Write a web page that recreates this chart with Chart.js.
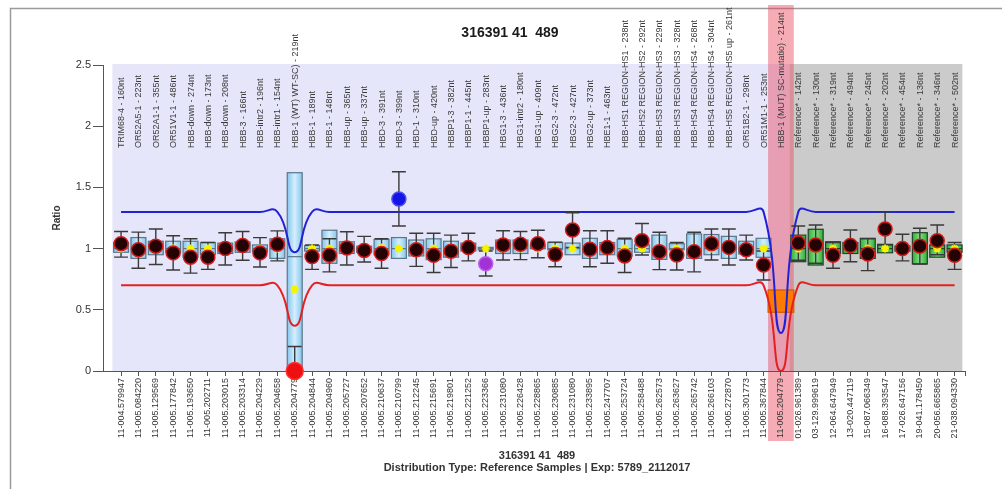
<!DOCTYPE html>
<html>
<head>
<meta charset="utf-8">
<script src="https://cdn.jsdelivr.net/npm/chart.js@4.4.1/dist/chart.umd.min.js"></script>
<style>
  html, body { margin: 0; padding: 0; background: #fff; }
  canvas { display: block; }
</style>
</head>
<body>
<canvas id="ratioChart" width="1002" height="489"></canvas>
<script>
// Probe names (top labels) and chromosome positions (bottom labels)
const probeNames = [
  'TRIM68-4 - 160nt', 'OR52A5-1 - 223nt', 'OR52A1-1 - 355nt', 'OR51V1-1 - 486nt',
  'HBB-down - 274nt', 'HBB-down - 173nt', 'HBB-down - 208nt', 'HBB-3 - 166nt',
  'HBB-intr2 - 196nt', 'HBB-intr1 - 154nt', 'HBB-1 (WT) WT-SC) - 219nt', 'HBB-1 - 189nt',
  'HBB-1 - 148nt', 'HBB-up - 365nt', 'HBB-up - 337nt', 'HBD-3 - 391nt',
  'HBD-3 - 399nt', 'HBD-1 - 310nt', 'HBD-up - 420nt', 'HBBP1-3 - 382nt',
  'HBBP1-1 - 445nt', 'HBBP1-up - 283nt', 'HBG1-3 - 436nt', 'HBG1-intr2 - 180nt',
  'HBG1-up - 409nt', 'HBG2-3 - 472nt', 'HBG2-3 - 427nt', 'HBG2-up - 373nt',
  'HBE1-1 - 463nt', 'HBB-HS1 REGION-HS1 - 238nt', 'HBB-HS2 REGION-HS2 - 292nt', 'HBB-HS3 REGION-HS3 - 229nt',
  'HBB-HS3 REGION-HS3 - 328nt', 'HBB-HS4 REGION-HS4 - 268nt', 'HBB-HS4 REGION-HS4 - 304nt', 'HBB-HS5 REGION-HS5 up - 261nt',
  'OR51B2-1 - 298nt', 'OR51M1-1 - 253nt', 'HBB-1 (MUT) SC-mutatio) - 214nt', 'Reference* - 142nt',
  'Reference* - 130nt', 'Reference* - 319nt', 'Reference* - 494nt', 'Reference* - 245nt',
  'Reference* - 202nt', 'Reference* - 454nt', 'Reference* - 136nt', 'Reference* - 346nt',
  'Reference* - 502nt'
];
const positions = [
  '11-004.579947', '11-005.084220', '11-005.129569', '11-005.177842',
  '11-005.193650', '11-005.202711', '11-005.203015', '11-005.203314',
  '11-005.204229', '11-005.204658', '11-005.204779', '11-005.204844',
  '11-005.204960', '11-005.205727', '11-005.207652', '11-005.210637',
  '11-005.210799', '11-005.212245', '11-005.215691', '11-005.219801',
  '11-005.221252', '11-005.223366', '11-005.231080', '11-005.226428',
  '11-005.228865', '11-005.230885', '11-005.231080', '11-005.233895',
  '11-005.247707', '11-005.253724', '11-005.258488', '11-005.262573',
  '11-005.263627', '11-005.265742', '11-005.266103', '11-005.272870',
  '11-005.301773', '11-005.367844', '11-005.204779', '01-026.961389',
  '03-129.999619', '12-064.647949', '13-020.447119', '15-087.066349',
  '16-088.393547', '17-026.647156', '19-041.178450', '20-056.665865',
  '21-038.094330'
];

// Sample ratio and its confidence range per probe
const sampleRatio = [
  1.04, 0.99, 1.02, 0.965, 0.93, 0.93, 1.0, 1.025, 0.965, 1.035,
  0.0, 0.935, 0.945, 1.005, 0.985, 0.96, 1.405, 0.99, 0.945, 0.978,
  1.008, 0.877, 1.03, 1.035, 1.04, 0.952, 1.152, 0.995, 1.008, 0.94,
  1.065, 0.975, 0.948, 0.975, 1.04, 1.01, 0.99, 0.866, null, 1.045,
  1.03, 0.945, 1.025, 0.956, 1.16, 1.0, 1.02, 1.065, 0.945
];
const errLow = [
  0.93, 0.84, 0.87, 0.825, 0.80, 0.83, 0.866, 0.905, 0.85, 0.90,
  0.0, 0.83, 0.81, 0.866, 0.89, 0.84, 1.185, 0.855, 0.805, 0.845,
  0.90, 0.776, 0.907, 0.91, 0.925, 0.852, 1.01, 0.852, 0.88, 0.805,
  0.948, 0.828, 0.825, 0.81, 0.907, 0.866, 0.907, 0.743, null, 0.905,
  0.88, 0.84, 0.893, 0.82, 1.03, 0.90, 0.874, 0.95, 0.83
];
const errHigh = [
  1.14, 1.135, 1.16, 1.105, 1.08, 1.05, 1.13, 1.14, 1.09, 1.145,
  0.2, 1.03, 1.08, 1.138, 1.10, 1.08, 1.628, 1.125, 1.125, 1.11,
  1.125, 0.98, 1.146, 1.14, 1.15, 1.053, 1.293, 1.146, 1.146, 1.084,
  1.205, 1.133, 1.05, 1.133, 1.16, 1.16, 1.11, 0.98, null, 1.185,
  1.193, 1.05, 1.152, 1.08, 1.30, 1.117, 1.166, 1.193, 1.05
];
// Call for the sample ratio of each probe
const sampleCall = [
  'normal', 'normal', 'normal', 'normal', 'normal', 'normal', 'normal', 'normal', 'normal', 'normal',
  'loss', 'normal', 'normal', 'normal', 'normal', 'normal', 'gain', 'normal', 'normal', 'normal',
  'normal', 'deviant', 'normal', 'normal', 'normal', 'normal', 'normal', 'normal', 'normal', 'normal',
  'normal', 'normal', 'normal', 'normal', 'normal', 'normal', 'normal', 'normal', 'normal', 'normal',
  'normal', 'normal', 'normal', 'normal', 'normal', 'normal', 'normal', 'normal', 'normal'
];

// Reference sample distribution per probe
const boxLow = [
  0.97, 0.92, 0.95, 0.97, 0.93, 0.95, 0.96, 0.97, 0.975, 0.92,
  0.0, 0.98, 0.88, 0.96, 0.97, 0.95, 0.92, 0.94, 0.91, 0.93,
  0.98, 0.99, 0.96, 0.96, 1.0, 0.99, 0.95, 0.92, 0.95, 0.94,
  0.97, 0.912, 0.99, 0.92, 0.95, 0.92, 0.956, 0.929, 0.48, 0.893,
  0.866, 0.96, 0.96, 0.92, 0.966, 0.98, 0.874, 0.93, 0.97
];
const boxHigh = [
  1.05, 1.09, 1.06, 1.06, 1.06, 1.05, 1.045, 1.055, 1.03, 1.08,
  1.62, 1.025, 1.15, 1.056, 1.02, 1.075, 1.09, 1.07, 1.08, 1.06,
  1.045, 1.01, 1.07, 1.07, 1.03, 1.05, 1.045, 1.084, 1.05, 1.075,
  1.03, 1.11, 1.04, 1.12, 1.115, 1.10, 1.06, 1.084, 0.662, 1.11,
  1.158, 1.056, 1.05, 1.084, 1.035, 1.02, 1.13, 1.03, 1.03
];
const boxMedian = [
  1.0, 1.0, 1.0, 1.0, 1.0, 1.0, 1.0, 1.0, 1.0, 1.0,
  0.934, 1.0, 1.0, 1.0, 1.0, 1.0, 1.0, 1.0, 1.0, 1.0,
  1.0, 1.0, 1.0, 1.0, 1.0, 1.0, 1.0, 1.0, 1.0, 1.0,
  1.0, 1.0, 1.0, 1.0, 1.0, 1.0, 1.0, 1.0, null, 1.0,
  1.0, 1.0, 1.0, 1.0, 1.0, 1.0, 1.0, 1.0, 1.0
];
const refMean = [
  1.0, 1.0, 1.0, 1.0, 1.0, 1.0, 1.0, 1.0, 1.0, 1.0,
  0.667, 1.0, 1.0, 1.0, 1.0, 1.01, 1.0, 1.0, 1.0, 1.0,
  1.0, 1.0, 1.0, 1.0, 1.0, 1.0, 1.0, 1.0, 1.0, 1.0,
  1.0, 1.0, 1.0, 1.0, 1.0, 1.0, 1.0, 1.0, null, 1.0,
  1.0, 1.0, 1.0, 1.0, 1.0, 1.0, 1.0, 1.0, 1.0
];

// Upper and lower decision limits per probe
const upperLimit = [
  1.3, 1.3, 1.3, 1.3, 1.3, 1.3, 1.3, 1.3, 1.3, 1.3,
  0.97, 1.3, 1.3, 1.3, 1.3, 1.3, 1.3, 1.3, 1.3, 1.3,
  1.3, 1.3, 1.3, 1.3, 1.3, 1.3, 1.3, 1.3, 1.3, 1.3,
  1.3, 1.3, 1.3, 1.3, 1.3, 1.3, 1.3, 1.3, 0.31, 1.3,
  1.3, 1.3, 1.3, 1.3, 1.3, 1.3, 1.3, 1.3, 1.3
];
const lowerLimit = [
  0.7, 0.7, 0.7, 0.7, 0.7, 0.7, 0.7, 0.7, 0.7, 0.7,
  0.37, 0.7, 0.7, 0.7, 0.7, 0.7, 0.7, 0.7, 0.7, 0.7,
  0.7, 0.7, 0.7, 0.7, 0.7, 0.7, 0.7, 0.7, 0.7, 0.7,
  0.7, 0.7, 0.7, 0.7, 0.7, 0.7, 0.7, 0.7, 0.0, 0.7,
  0.7, 0.7, 0.7, 0.7, 0.7, 0.7, 0.7, 0.7, 0.7
];

const yTicks = [0, 0.5, 1, 1.5, 2, 2.5];
const chartTitle = '316391 41  489';
const footerLines = ['316391 41  489', 'Distribution Type: Reference Samples | Exp: 5789_2112017'];
const yTitle = 'Ratio';

// ---------------------------------------------------------------------------
const FONT = '"Liberation Sans", Arial, Helvetica, sans-serif';
Chart.defaults.font.family = FONT;

const idx = probeNames.map((_, i) => i);
const probeType = probeNames.map(n =>
  n.startsWith('Reference') ? 'reference' : (n.includes('(MUT)') ? 'mutation' : 'target'));
const firstRef = probeType.indexOf('reference');
const lastRef = probeType.lastIndexOf('reference');
const mutIndex = probeType.indexOf('mutation');

const callColors = {
  normal:  { fill: '#230303', edge: '#d41a1a' },
  gain:    { fill: '#1414e6', edge: '#4a4af0' },
  loss:    { fill: '#ee1010', edge: '#ff3030' },
  deviant: { fill: '#a032d8', edge: '#b860e6' }
};

const sampleIdx = idx.filter(i => sampleRatio[i] !== null);

// Shaded regions, the highlighted mutation column and the frame
const backdrop = {
  id: 'backdrop',
  beforeDraw(chart) {
    const { ctx, chartArea: a, scales: { x } } = chart;
    ctx.save();
    ctx.fillStyle = '#fff';
    ctx.fillRect(0, 0, chart.width, chart.height);
    // frame
    ctx.strokeStyle = '#9a9a9a';
    ctx.lineWidth = 1.5;
    ctx.beginPath();
    ctx.moveTo(10.5, chart.height);
    ctx.lineTo(10.5, 8.5);
    ctx.lineTo(chart.width, 8.5);
    ctx.stroke();
    const top = a.top - 1;
    // target probe region
    const l0 = x.getPixelForValue(-0.5), l1 = x.getPixelForValue(firstRef - 0.5);
    ctx.fillStyle = '#e6e6fa';
    ctx.fillRect(l0, top, l1 - l0, a.bottom - top);
    // reference probe region
    const g0 = x.getPixelForValue(firstRef - 0.5), g1 = x.getPixelForValue(lastRef + 0.45);
    ctx.fillStyle = '#cbcbcb';
    ctx.fillRect(g0, top, g1 - g0, a.bottom - top);
    // mutation column highlight
    const b0 = x.getPixelForValue(mutIndex - 0.74), b1 = x.getPixelForValue(mutIndex + 0.74);
    ctx.fillStyle = 'rgba(232, 72, 92, 0.45)';
    ctx.fillRect(b0, 5, b1 - b0, 436);
    ctx.restore();
  }
};

// Reference boxes (under the limit lines)
const boxes = {
  id: 'boxes',
  beforeDatasetsDraw(chart) {
    const { ctx, chartArea: a, scales: { x, y } } = chart;
    ctx.save();
    ctx.beginPath();
    ctx.rect(a.left, a.top, a.right - a.left, a.bottom - a.top + 1);
    ctx.clip();
    idx.forEach(i => {
      if (boxLow[i] === null) return;
      const cx = x.getPixelForValue(i);
      const half = (x.getPixelForValue(probeType[i] === 'mutation' ? 0.74 : 0.43) - x.getPixelForValue(0));
      const yTop = y.getPixelForValue(boxHigh[i]);
      const yBot = y.getPixelForValue(boxLow[i]);
      let fill, edge;
      if (probeType[i] === 'mutation') {
        fill = '#ff7a00'; edge = '#d05a00';
      } else {
        const g = ctx.createLinearGradient(cx - half, 0, cx + half, 0);
        if (probeType[i] === 'reference') {
          g.addColorStop(0, '#2fae37'); g.addColorStop(0.5, '#86df86'); g.addColorStop(1, '#2fae37');
          edge = '#23402a';
        } else {
          g.addColorStop(0, '#86c6ec'); g.addColorStop(0.5, '#d4efff'); g.addColorStop(1, '#86c6ec');
          edge = '#5b7688';
        }
        fill = g;
      }
      ctx.fillStyle = fill;
      ctx.fillRect(cx - half, yTop, half * 2, yBot - yTop);
      ctx.strokeStyle = edge;
      ctx.lineWidth = 1.2;
      ctx.strokeRect(cx - half, yTop, half * 2, yBot - yTop);
      if (boxMedian[i] !== null) {
        const ym = y.getPixelForValue(boxMedian[i]);
        ctx.beginPath();
        ctx.moveTo(cx - half, ym);
        ctx.lineTo(cx + half, ym);
        ctx.stroke();
      }
    });
    ctx.restore();
  },
  // error bars of the sample, drawn just before the mean markers
  beforeDatasetDraw(chart, args) {
    if (chart.data.datasets[args.index].label !== 'Reference mean') return;
    const { ctx, scales: { x, y } } = chart;
    ctx.save();
    ctx.strokeStyle = '#3a3a3a';
    ctx.lineWidth = 1.4;
    sampleIdx.forEach(i => {
      const cx = x.getPixelForValue(i);
      const cap = x.getPixelForValue(0.4) - x.getPixelForValue(0);
      const y0 = y.getPixelForValue(errLow[i]);
      const y1 = y.getPixelForValue(errHigh[i]);
      ctx.beginPath();
      ctx.moveTo(cx, y0); ctx.lineTo(cx, y1);
      ctx.moveTo(cx - cap, y0); ctx.lineTo(cx + cap, y0);
      ctx.moveTo(cx - cap, y1); ctx.lineTo(cx + cap, y1);
      ctx.stroke();
    });
    ctx.restore();
  }
};

// Titles, probe names and the axis title
const texts = {
  id: 'texts',
  afterDraw(chart) {
    const { ctx, chartArea: a, scales: { x } } = chart;
    ctx.save();
    ctx.fillStyle = '#1a1a1a';
    ctx.textAlign = 'center';
    ctx.textBaseline = 'middle';
    ctx.font = 'bold 14px ' + FONT;
    ctx.fillText(chartTitle, 510, 33);
    const mid = (a.left + a.right) / 2;
    ctx.font = 'bold 11px ' + FONT;
    ctx.fillStyle = '#333';
    ctx.fillText(footerLines[0], mid + 3, 456);
    ctx.fillText(footerLines[1], mid + 3, 468);
    // axis title
    ctx.save();
    ctx.translate(57, 218);
    ctx.rotate(-Math.PI / 2);
    ctx.font = 'bold 10px ' + FONT;
    ctx.fillText(yTitle, 0, 0);
    ctx.restore();
    // probe names
    ctx.font = '9px ' + FONT;
    ctx.fillStyle = '#3a3a3a';
    ctx.textAlign = 'left';
    idx.forEach(i => {
      ctx.save();
      ctx.translate(x.getPixelForValue(i) + 0.5, 148);
      ctx.rotate(-Math.PI / 2);
      ctx.fillText(probeNames[i], 0, 0);
      ctx.restore();
    });
    ctx.restore();
  }
};

new Chart(document.getElementById('ratioChart'), {
  type: 'line',
  data: {
    datasets: [
      {
        label: 'Upper limit',
        data: idx.map(i => ({ x: i, y: upperLimit[i] })),
        borderColor: '#2222d4', borderWidth: 2, pointRadius: 0,
        tension: 0.5, fill: false, order: 2
      },
      {
        label: 'Lower limit',
        data: idx.map(i => ({ x: i, y: lowerLimit[i] })),
        borderColor: '#e42020', borderWidth: 2, pointRadius: 0,
        tension: 0.5, fill: false, order: 2
      },
      {
        type: 'scatter',
        label: 'Reference mean',
        data: idx.filter(i => refMean[i] !== null).map(i => ({ x: i, y: refMean[i] })),
        pointStyle: 'star', pointRadius: 4, borderColor: '#f4f400', borderWidth: 2,
        backgroundColor: '#f4f400', order: 1
      },
      {
        type: 'scatter',
        label: 'Sample ratio',
        data: sampleIdx.map(i => ({ x: i, y: sampleRatio[i] })),
        pointStyle: 'circle',
        pointRadius: sampleIdx.map(i => sampleCall[i] === 'loss' ? 8.5 : 7),
        backgroundColor: sampleIdx.map(i => callColors[sampleCall[i]].fill),
        borderColor: sampleIdx.map(i => callColors[sampleCall[i]].edge),
        borderWidth: 1.5, clip: false, order: 0
      }
    ]
  },
  options: {
    responsive: false,
    animation: false,
    events: [],
    layout: { padding: { top: 65, right: 37, left: 0, bottom: 0 } },
    plugins: { legend: { display: false }, tooltip: { enabled: false } },
    scales: {
      x: {
        type: 'linear', min: -1.04, max: 48.6,
        afterBuildTicks: s => { s.ticks = idx.map(v => ({ value: v })).concat([{ value: 48.6 }]); },
        afterFit: s => { s.height = 118; },
        ticks: {
          autoSkip: false, minRotation: 90, maxRotation: 90, padding: 2,
          font: { size: 9 }, color: '#333',
          callback: v => (Number.isInteger(v) && positions[v]) ? positions[v] : ''
        },
        grid: { drawOnChartArea: false, drawTicks: true, tickLength: 5, color: '#555' },
        border: { display: true, color: '#555', width: 1 }
      },
      y: {
        min: 0, max: 2.5,
        afterBuildTicks: s => { s.ticks = yTicks.map(v => ({ value: v })); },
        afterFit: s => { s.width = 103; },
        ticks: { padding: 2, font: { size: 11 }, color: '#333', callback: v => String(v) },
        grid: { drawOnChartArea: false, drawTicks: true, tickLength: 10, color: '#555' },
        border: { display: true, color: '#555', width: 1 }
      }
    }
  },
  plugins: [backdrop, boxes, texts]
});
</script>
</body>
</html>
